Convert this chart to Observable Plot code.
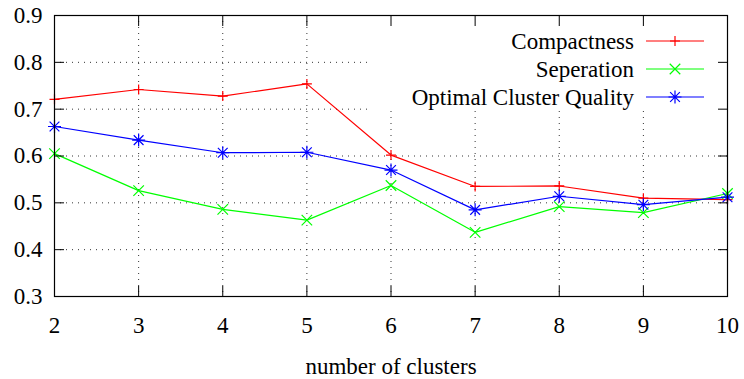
<!DOCTYPE html>
<html>
<head>
<meta charset="utf-8">
<script src="https://cdn.jsdelivr.net/npm/d3@7"></script>
<script src="https://cdn.jsdelivr.net/npm/@observablehq/plot@0.6"></script>
<style>
  html, body { margin: 0; padding: 0; background: #fff; }
</style>
</head>
<body>
<div id="chart"></div>
<script>
// Cluster counts on the x axis
const clusters = [2, 3, 4, 5, 6, 7, 8, 9, 10];

// Measured scores for each cluster count
const compactness = [0.721, 0.742, 0.728, 0.754, 0.602, 0.535, 0.536, 0.510, 0.507];
const seperation  = [0.605, 0.526, 0.486, 0.463, 0.537, 0.437, 0.492, 0.479, 0.520];
const optimal     = [0.663, 0.634, 0.607, 0.608, 0.570, 0.485, 0.514, 0.496, 0.512];

const seriesNames  = ["Compactness", "Seperation", "Optimal Cluster Quality"];
const seriesValues = [compactness, seperation, optimal];
const seriesColors = ["#ff0000", "#00ff00", "#0000ff"];

const xTicks = [2, 3, 4, 5, 6, 7, 8, 9, 10];
const yTicks = [0.3, 0.4, 0.5, 0.6, 0.7, 0.8, 0.9];
const xTitle = "number of clusters";

// gnuplot-style point shapes: +, x and * (plus and cross overlaid)
const radius = (size) => Math.sqrt(size / Math.PI);
const plusSymbol = {draw(ctx, size) {
  const r = radius(size);
  ctx.moveTo(-r, 0); ctx.lineTo(r, 0);
  ctx.moveTo(0, -r); ctx.lineTo(0, r);
}};
const crossSymbol = {draw(ctx, size) {
  const r = radius(size) * 0.75;
  ctx.moveTo(-r, -r); ctx.lineTo(r, r);
  ctx.moveTo(-r, r); ctx.lineTo(r, -r);
}};
const starSymbol = {draw(ctx, size) {
  plusSymbol.draw(ctx, size);
  crossSymbol.draw(ctx, size);
}};
const seriesSymbols = [plusSymbol, crossSymbol, starSymbol];
const seriesRadius = [5, 7, 6.5];

const rows = seriesNames.map((name, i) =>
  clusters.map((k, j) => ({series: name, k, v: seriesValues[i][j]}))
);

const W = 744, H = 379;
const M = {left: 54, right: 17, top: 15, bottom: 83};
const font = '"Liberation Serif", "Times New Roman", serif';
const fontSize = 23;
const gridStyle = {stroke: "#000", strokeOpacity: 0.8, strokeWidth: 1, strokeDasharray: "1,5"};
const tickLen = 10;

const plot = Plot.plot({
  width: W,
  height: H,
  marginLeft: M.left,
  marginRight: M.right,
  marginTop: M.top,
  marginBottom: M.bottom,
  style: {fontFamily: font, fontSize: fontSize + "px", background: "#fff", color: "#000"},
  x: {domain: [2, 10], label: null},
  y: {domain: [0.3, 0.9], label: null},
  marks: [
    Plot.gridX(xTicks, gridStyle),
    Plot.gridY(yTicks, gridStyle),
    ...rows.map((data, i) => Plot.line(data, {
      x: "k", y: "v", stroke: seriesColors[i], strokeWidth: 1.2
    })),
    ...rows.map((data, i) => Plot.dot(data, {
      x: "k", y: "v", symbol: seriesSymbols[i], r: seriesRadius[i],
      stroke: seriesColors[i], fill: "none", strokeWidth: 1.2
    })),
    // inward ticks on all four sides
    Plot.axisX(xTicks, {anchor: "bottom", tickSize: -tickLen, tickFormat: () => "", label: null, stroke: "#000"}),
    Plot.axisX(xTicks, {anchor: "top", tickSize: -tickLen, tickFormat: () => "", label: null, stroke: "#000"}),
    Plot.axisY(yTicks, {anchor: "left", tickSize: -tickLen, tickFormat: () => "", label: null, stroke: "#000"}),
    Plot.axisY(yTicks, {anchor: "right", tickSize: -tickLen, tickFormat: () => "", label: null, stroke: "#000"}),
    // tick labels
    Plot.axisX(xTicks, {anchor: "bottom", tickSize: 0, tickPadding: 20, tickFormat: d => String(d), label: null}),
    Plot.axisY(yTicks, {anchor: "left", tickSize: 0, tickPadding: 12, tickFormat: d3.format(".1f"), label: null}),
    Plot.frame({stroke: "#000", strokeWidth: 1.2}),
    Plot.text([xTitle], {frameAnchor: "bottom", dy: 77, lineAnchor: "bottom", fill: "#000"})
  ]
});

// Key box in the top right corner: opaque background over the grid, then entries
const svg = d3.select(plot);
const frameRight = W - M.right;
const keyBox = {x: 368, y: M.top, w: frameRight - 368, h: 96};
const firstLine = plot.querySelector('g[aria-label="line"]');
const bg = document.createElementNS("http://www.w3.org/2000/svg", "rect");
bg.setAttribute("x", keyBox.x);
bg.setAttribute("y", keyBox.y);
bg.setAttribute("width", keyBox.w);
bg.setAttribute("height", keyBox.h);
bg.setAttribute("fill", "#fff");
plot.insertBefore(bg, firstLine);

const key = svg.append("g").attr("font-family", font).attr("font-size", fontSize);
const rowY = [41, 69, 97];
const textRight = frameRight - 93;
const lineX1 = frameRight - 81, lineX2 = frameRight - 23;
const markX = (lineX1 + lineX2) / 2;
seriesNames.forEach((name, i) => {
  const y = rowY[i];
  key.append("text")
    .attr("x", textRight).attr("y", y + 7.6)
    .attr("text-anchor", "end").attr("fill", "#000")
    .text(name);
  key.append("line")
    .attr("x1", lineX1).attr("x2", lineX2).attr("y1", y).attr("y2", y)
    .attr("stroke", seriesColors[i]).attr("stroke-width", 1.2);
  const p = d3.path();
  seriesSymbols[i].draw(p, seriesRadius[i] * seriesRadius[i] * Math.PI);
  key.append("path")
    .attr("transform", `translate(${markX},${y})`)
    .attr("d", p.toString())
    .attr("fill", "none").attr("stroke", seriesColors[i]).attr("stroke-width", 1.2);
});

document.getElementById("chart").appendChild(plot);
</script>
</body>
</html>
